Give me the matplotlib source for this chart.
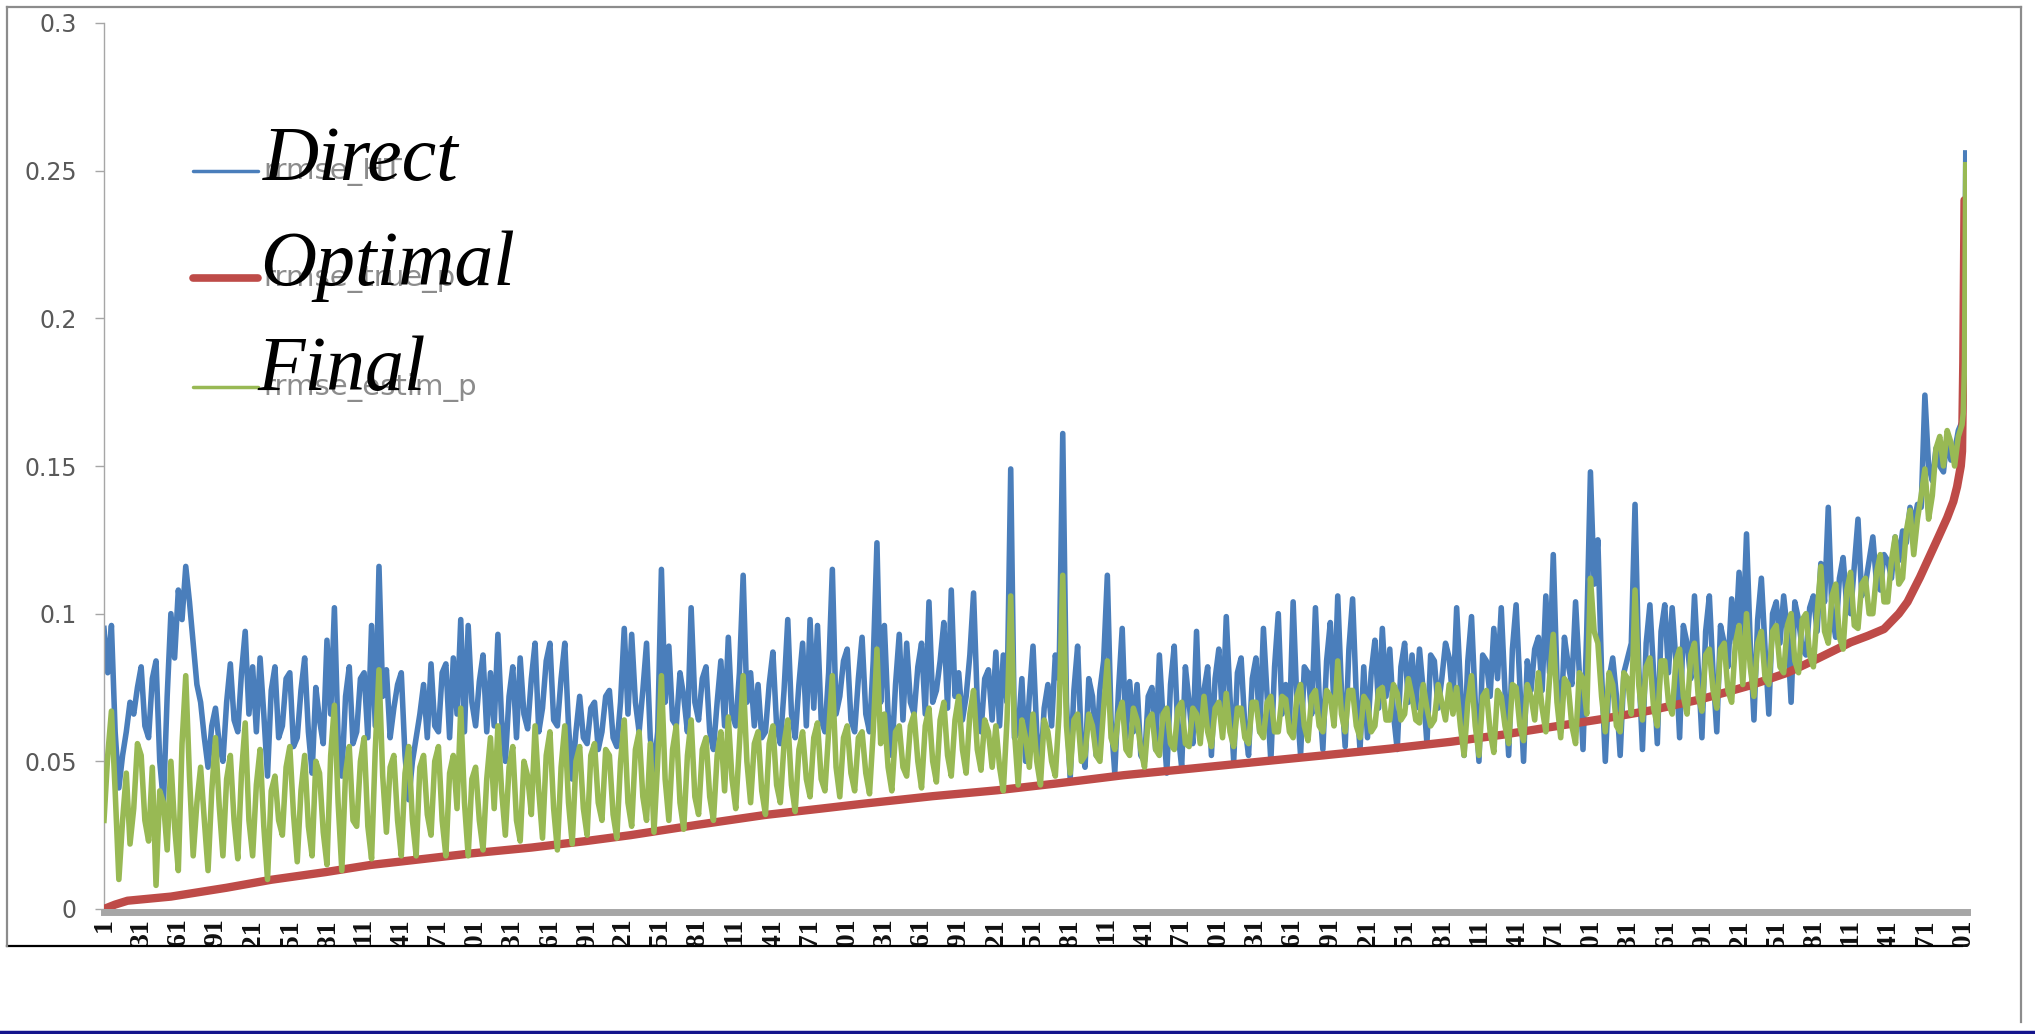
import matplotlib
matplotlib.use("Agg")
import matplotlib.pyplot as plt
import numpy as np
from matplotlib.lines import Line2D
from matplotlib.patches import Rectangle
from matplotlib.ticker import FuncFormatter

W, H = 2035, 1034

# case index of the readings (every 3rd case, then the last few cases one by one)
CASES = list(range(1, 1502, 3)) + [1502, 1503, 1504]

RRMSE_HT = [
    0.095, 0.080, 0.096, 0.060, 0.041, 0.052, 0.060, 0.070, 0.066, 0.075, 0.082, 0.062, 0.058, 0.078, 0.084, 0.050, 0.036, 0.072, 0.100, 0.085,
    0.108, 0.098, 0.116, 0.104, 0.090, 0.076, 0.070, 0.058, 0.048, 0.062, 0.068, 0.056, 0.050, 0.070, 0.083, 0.064, 0.060, 0.080, 0.094, 0.066,
    0.082, 0.060, 0.085, 0.066, 0.045, 0.074, 0.082, 0.058, 0.062, 0.078, 0.080, 0.055, 0.058, 0.074, 0.085, 0.060, 0.046, 0.075, 0.064, 0.056,
    0.091, 0.066, 0.102, 0.058, 0.045, 0.072, 0.082, 0.056, 0.060, 0.078, 0.080, 0.058, 0.096, 0.062, 0.116, 0.072, 0.081, 0.058, 0.068, 0.076,
    0.080, 0.052, 0.037, 0.050, 0.058, 0.066, 0.076, 0.058, 0.083, 0.062, 0.060, 0.080, 0.083, 0.058, 0.085, 0.066, 0.098, 0.060, 0.096, 0.070,
    0.062, 0.077, 0.086, 0.060, 0.080, 0.062, 0.093, 0.064, 0.050, 0.072, 0.082, 0.058, 0.085, 0.066, 0.061, 0.078, 0.090, 0.060, 0.068, 0.084,
    0.090, 0.064, 0.062, 0.078, 0.090, 0.062, 0.044, 0.060, 0.072, 0.058, 0.056, 0.068, 0.070, 0.054, 0.060, 0.072, 0.074, 0.058, 0.055, 0.070,
    0.095, 0.066, 0.093, 0.070, 0.060, 0.074, 0.090, 0.058, 0.047, 0.060, 0.115, 0.070, 0.089, 0.064, 0.062, 0.080, 0.072, 0.060, 0.102, 0.070,
    0.064, 0.078, 0.082, 0.060, 0.054, 0.070, 0.084, 0.062, 0.092, 0.066, 0.062, 0.080, 0.113, 0.070, 0.080, 0.062, 0.076, 0.058, 0.060, 0.076,
    0.087, 0.062, 0.056, 0.074, 0.098, 0.066, 0.058, 0.076, 0.090, 0.062, 0.098, 0.068, 0.096, 0.064, 0.060, 0.080, 0.115, 0.066, 0.072, 0.084,
    0.088, 0.064, 0.060, 0.078, 0.092, 0.066, 0.060, 0.084, 0.124, 0.070, 0.096, 0.066, 0.052, 0.076, 0.093, 0.064, 0.090, 0.070, 0.066, 0.082,
    0.090, 0.066, 0.104, 0.070, 0.074, 0.084, 0.097, 0.068, 0.108, 0.072, 0.080, 0.064, 0.072, 0.086, 0.107, 0.070, 0.060, 0.078, 0.081, 0.064,
    0.087, 0.062, 0.086, 0.070, 0.149, 0.058, 0.060, 0.078, 0.050, 0.072, 0.089, 0.060, 0.046, 0.068, 0.076, 0.062, 0.086, 0.078, 0.161, 0.070,
    0.044, 0.074, 0.089, 0.056, 0.048, 0.078, 0.072, 0.052, 0.074, 0.084, 0.113, 0.064, 0.046, 0.074, 0.095, 0.058, 0.077, 0.060, 0.076, 0.052,
    0.050, 0.072, 0.075, 0.054, 0.086, 0.064, 0.046, 0.076, 0.089, 0.060, 0.048, 0.082, 0.070, 0.056, 0.094, 0.060, 0.074, 0.082, 0.052, 0.078,
    0.088, 0.064, 0.099, 0.072, 0.050, 0.080, 0.085, 0.062, 0.052, 0.078, 0.085, 0.060, 0.095, 0.072, 0.050, 0.082, 0.100, 0.066, 0.076, 0.062,
    0.104, 0.070, 0.052, 0.082, 0.080, 0.066, 0.102, 0.072, 0.054, 0.084, 0.097, 0.068, 0.106, 0.074, 0.055, 0.088, 0.105, 0.072, 0.054, 0.082,
    0.058, 0.080, 0.091, 0.068, 0.095, 0.072, 0.088, 0.066, 0.054, 0.082, 0.090, 0.070, 0.086, 0.068, 0.088, 0.074, 0.056, 0.086, 0.084, 0.068,
    0.078, 0.090, 0.085, 0.070, 0.102, 0.076, 0.052, 0.084, 0.099, 0.070, 0.050, 0.086, 0.084, 0.072, 0.095, 0.078, 0.102, 0.074, 0.052, 0.088,
    0.103, 0.076, 0.050, 0.084, 0.074, 0.088, 0.092, 0.074, 0.106, 0.080, 0.120, 0.078, 0.060, 0.092, 0.083, 0.076, 0.104, 0.080, 0.054, 0.094,
    0.148, 0.110, 0.125, 0.080, 0.050, 0.078, 0.085, 0.072, 0.052, 0.080, 0.085, 0.090, 0.137, 0.082, 0.054, 0.090, 0.103, 0.080, 0.056, 0.094,
    0.103, 0.080, 0.102, 0.084, 0.058, 0.096, 0.090, 0.078, 0.106, 0.082, 0.058, 0.094, 0.106, 0.080, 0.060, 0.096, 0.090, 0.082, 0.105, 0.090,
    0.114, 0.092, 0.127, 0.090, 0.064, 0.098, 0.112, 0.088, 0.066, 0.100, 0.104, 0.090, 0.106, 0.094, 0.070, 0.104, 0.098, 0.088, 0.086, 0.102,
    0.106, 0.094, 0.117, 0.104, 0.136, 0.100, 0.092, 0.112, 0.119, 0.102, 0.100, 0.116, 0.132, 0.106, 0.110, 0.118, 0.126, 0.110, 0.108, 0.120,
    0.118, 0.112, 0.126, 0.118, 0.128, 0.124, 0.136, 0.130, 0.137, 0.136, 0.174, 0.150, 0.145, 0.156, 0.150, 0.148, 0.160, 0.152, 0.155, 0.162,
    0.165, 0.168, 0.190, 0.256,
]

RRMSE_ESTIM_P = [
    0.030, 0.052, 0.067, 0.040, 0.010, 0.030, 0.046, 0.022, 0.034, 0.056, 0.052, 0.030, 0.023, 0.048, 0.008, 0.040, 0.036, 0.020, 0.050, 0.028,
    0.013, 0.056, 0.079, 0.045, 0.018, 0.036, 0.048, 0.030, 0.013, 0.040, 0.058, 0.035, 0.018, 0.044, 0.052, 0.030, 0.017, 0.046, 0.063, 0.030,
    0.018, 0.042, 0.054, 0.028, 0.010, 0.040, 0.045, 0.030, 0.025, 0.048, 0.055, 0.032, 0.016, 0.040, 0.052, 0.028, 0.018, 0.050, 0.046, 0.026,
    0.015, 0.052, 0.069, 0.036, 0.013, 0.046, 0.055, 0.030, 0.028, 0.050, 0.058, 0.028, 0.017, 0.054, 0.081, 0.045, 0.026, 0.048, 0.052, 0.030,
    0.018, 0.046, 0.055, 0.030, 0.018, 0.048, 0.052, 0.032, 0.025, 0.050, 0.055, 0.030, 0.018, 0.046, 0.052, 0.034, 0.068, 0.036, 0.018, 0.044,
    0.048, 0.030, 0.020, 0.044, 0.058, 0.034, 0.062, 0.040, 0.025, 0.048, 0.055, 0.030, 0.023, 0.050, 0.045, 0.032, 0.062, 0.040, 0.024, 0.052,
    0.060, 0.034, 0.020, 0.048, 0.062, 0.036, 0.022, 0.050, 0.055, 0.034, 0.025, 0.052, 0.056, 0.036, 0.030, 0.054, 0.052, 0.032, 0.024, 0.050,
    0.064, 0.036, 0.028, 0.054, 0.060, 0.038, 0.030, 0.056, 0.026, 0.050, 0.079, 0.044, 0.030, 0.054, 0.062, 0.036, 0.027, 0.052, 0.064, 0.038,
    0.032, 0.054, 0.058, 0.038, 0.030, 0.052, 0.060, 0.040, 0.065, 0.044, 0.034, 0.056, 0.079, 0.050, 0.036, 0.056, 0.060, 0.040, 0.032, 0.056,
    0.062, 0.042, 0.036, 0.056, 0.064, 0.042, 0.033, 0.054, 0.060, 0.044, 0.038, 0.058, 0.063, 0.044, 0.040, 0.060, 0.079, 0.048, 0.038, 0.058,
    0.062, 0.046, 0.040, 0.058, 0.060, 0.046, 0.039, 0.060, 0.088, 0.056, 0.066, 0.048, 0.040, 0.060, 0.062, 0.048, 0.045, 0.062, 0.066, 0.050,
    0.041, 0.062, 0.068, 0.050, 0.043, 0.064, 0.070, 0.052, 0.045, 0.064, 0.072, 0.054, 0.046, 0.066, 0.074, 0.054, 0.047, 0.064, 0.060, 0.048,
    0.062, 0.048, 0.040, 0.064, 0.106, 0.060, 0.042, 0.064, 0.058, 0.048, 0.066, 0.050, 0.042, 0.064, 0.060, 0.050, 0.045, 0.066, 0.113, 0.062,
    0.046, 0.064, 0.066, 0.050, 0.052, 0.066, 0.062, 0.052, 0.050, 0.068, 0.084, 0.058, 0.054, 0.066, 0.070, 0.054, 0.052, 0.068, 0.064, 0.054,
    0.048, 0.064, 0.066, 0.054, 0.052, 0.066, 0.068, 0.056, 0.054, 0.068, 0.070, 0.056, 0.055, 0.068, 0.066, 0.056, 0.072, 0.060, 0.055, 0.068,
    0.070, 0.058, 0.073, 0.060, 0.055, 0.068, 0.068, 0.058, 0.056, 0.070, 0.070, 0.060, 0.058, 0.070, 0.072, 0.060, 0.060, 0.072, 0.071, 0.060,
    0.058, 0.072, 0.076, 0.062, 0.057, 0.072, 0.074, 0.062, 0.060, 0.074, 0.072, 0.062, 0.084, 0.066, 0.060, 0.074, 0.074, 0.062, 0.058, 0.072,
    0.070, 0.060, 0.062, 0.074, 0.075, 0.064, 0.064, 0.076, 0.073, 0.064, 0.066, 0.078, 0.072, 0.064, 0.063, 0.076, 0.068, 0.062, 0.064, 0.076,
    0.070, 0.064, 0.076, 0.066, 0.075, 0.062, 0.052, 0.070, 0.079, 0.062, 0.052, 0.072, 0.074, 0.060, 0.053, 0.074, 0.072, 0.062, 0.056, 0.076,
    0.075, 0.062, 0.057, 0.076, 0.072, 0.064, 0.080, 0.068, 0.060, 0.078, 0.093, 0.070, 0.058, 0.078, 0.076, 0.062, 0.056, 0.080, 0.078, 0.066,
    0.112, 0.094, 0.090, 0.072, 0.060, 0.080, 0.076, 0.062, 0.060, 0.080, 0.078, 0.066, 0.108, 0.076, 0.064, 0.082, 0.085, 0.068, 0.062, 0.084,
    0.084, 0.070, 0.066, 0.084, 0.088, 0.072, 0.066, 0.086, 0.090, 0.072, 0.067, 0.086, 0.088, 0.074, 0.068, 0.088, 0.090, 0.074, 0.070, 0.090,
    0.096, 0.076, 0.100, 0.082, 0.072, 0.090, 0.094, 0.078, 0.076, 0.094, 0.096, 0.082, 0.080, 0.096, 0.100, 0.084, 0.080, 0.098, 0.100, 0.086,
    0.082, 0.100, 0.116, 0.094, 0.090, 0.106, 0.110, 0.092, 0.088, 0.108, 0.114, 0.096, 0.095, 0.110, 0.112, 0.100, 0.100, 0.114, 0.120, 0.104,
    0.104, 0.118, 0.126, 0.110, 0.112, 0.128, 0.135, 0.120, 0.132, 0.140, 0.149, 0.132, 0.140, 0.156, 0.160, 0.150, 0.162, 0.158, 0.150, 0.160,
    0.164, 0.168, 0.185, 0.252,
]

# rrmse_true_p rises smoothly, so fewer readings are enough
RED_CASES = [
    1, 10, 20, 55, 100, 136, 180, 216, 260, 297, 346, 390, 426, 480, 534,
    580, 615, 670, 722, 770, 824, 880, 932, 985, 1039, 1088, 1130, 1169,
    1210, 1249, 1290, 1330, 1360, 1384, 1400, 1411, 1425, 1438, 1450, 1457,
    1467, 1475, 1482, 1489, 1494, 1497, 1500, 1501, 1502, 1503,
]
RRMSE_TRUE_P = [
    0.0000, 0.0015, 0.0028, 0.0042, 0.0072, 0.0099, 0.0125, 0.0149, 0.0170,
    0.0188, 0.0208, 0.0230, 0.0250, 0.0285, 0.0318, 0.0340, 0.0357, 0.0382,
    0.0402, 0.0425, 0.0453, 0.0476, 0.0498, 0.0520, 0.0543, 0.0566, 0.0590,
    0.0616, 0.0643, 0.0672, 0.0710, 0.0757, 0.0800, 0.0847, 0.0880, 0.0903,
    0.0925, 0.0948, 0.1000, 0.1040, 0.1123, 0.1196, 0.1260, 0.1325, 0.1380,
    0.1430, 0.1500, 0.1550, 0.1850, 0.2400,
]

TICK_CASES = list(range(1, 1502, 30))
Y_TICKS = [0, 0.05, 0.1, 0.15, 0.2, 0.25, 0.3]

SERIES_NAMES = ["rrmse_HT", "rrmse_true_p", "rrmse_estim_p"]
OVERLAY_NAMES = ["Direct", "Optimal", "Final"]

BLUE = "#4a7ebb"
RED = "#be4b48"
GREEN = "#98b954"


def fx(px):
    return px / W


def fy(py):
    return 1 - py / H


fig = plt.figure(figsize=(W / 100, H / 100), dpi=100)
fig.patch.set_facecolor("white")

ax = fig.add_axes([fx(104), fy(909), (1967 - 104) / W, (909 - 23) / H])
ax.plot(CASES, RRMSE_HT, color=BLUE, lw=4.0, zorder=2)
ax.plot(RED_CASES, RRMSE_TRUE_P, color=RED, lw=6.0, zorder=3, solid_capstyle="round")
ax.plot(CASES, RRMSE_ESTIM_P, color=GREEN, lw=4.0, zorder=4)

ax.set_xlim(1, 1505)
ax.set_ylim(0, 0.3)
for side in ("top", "right"):
    ax.spines[side].set_visible(False)
ax.spines["left"].set_color("#a6a6a6")
ax.spines["left"].set_linewidth(1.0)
ax.spines["bottom"].set_color("#a6a6a6")
ax.spines["bottom"].set_linewidth(5.0)
ax.spines["bottom"].set_position(("outward", 2.5))

ax.set_yticks(Y_TICKS)
ax.yaxis.set_major_formatter(FuncFormatter(lambda v, _: f"{v:g}"))
ax.tick_params(axis="y", direction="out", length=6.5, width=1.0, color="#a6a6a6",
               labelcolor="#595959", labelsize=17, pad=13)

ax.set_xticks(TICK_CASES)
ax.set_xticklabels([str(c) for c in TICK_CASES], rotation=90, fontsize=20,
                   fontweight="bold", family="Liberation Serif", color="#111111")
ax.tick_params(axis="x", length=0, pad=4)

# legend drawn by hand, with the big italic labels pasted over it
legend_y = [171, 278, 387]
legend_lw = [2.5, 5.5, 2.5]
for name, color, y, lw in zip(SERIES_NAMES, [BLUE, RED, GREEN], legend_y, legend_lw):
    fig.add_artist(Line2D([fx(193), fx(258)], [fy(y), fy(y)], color=color, lw=lw,
                          solid_capstyle="round"))
    fig.text(fx(263), fy(y + 8), name, color="#8c8c8c", fontsize=21, va="baseline")

for name, x, y in zip(OVERLAY_NAMES, [263, 260, 257], [180, 285, 390]):
    fig.text(fx(x), fy(y), name, family="Liberation Serif", style="italic",
             fontsize=56, color="black", va="baseline", zorder=6)

# the tick labels are cut off by the frame line under the chart
fig.add_artist(Rectangle((fx(9), fy(1026)), fx(2010), (1026 - 947) / H,
                         facecolor="white", edgecolor="none", zorder=10))
fig.add_artist(Line2D([fx(7), fx(1962)], [fy(946), fy(946)], color="black", lw=1.6, zorder=11))
fig.add_artist(Line2D([fx(7), fx(7)], [fy(7), fy(946)], color="#8c8c8c", lw=1.6, zorder=11))
fig.add_artist(Line2D([fx(7), fx(2021)], [fy(7), fy(7)], color="#8c8c8c", lw=1.6, zorder=11))
fig.add_artist(Line2D([fx(2021), fx(2021)], [fy(7), fy(1022)], color="#8c8c8c", lw=1.6, zorder=11))
fig.add_artist(Line2D([0, 1], [fy(1032), fy(1032)], color="#14148c", lw=2.5, zorder=11))

fig.savefig("out.png", dpi=100, facecolor="white")
